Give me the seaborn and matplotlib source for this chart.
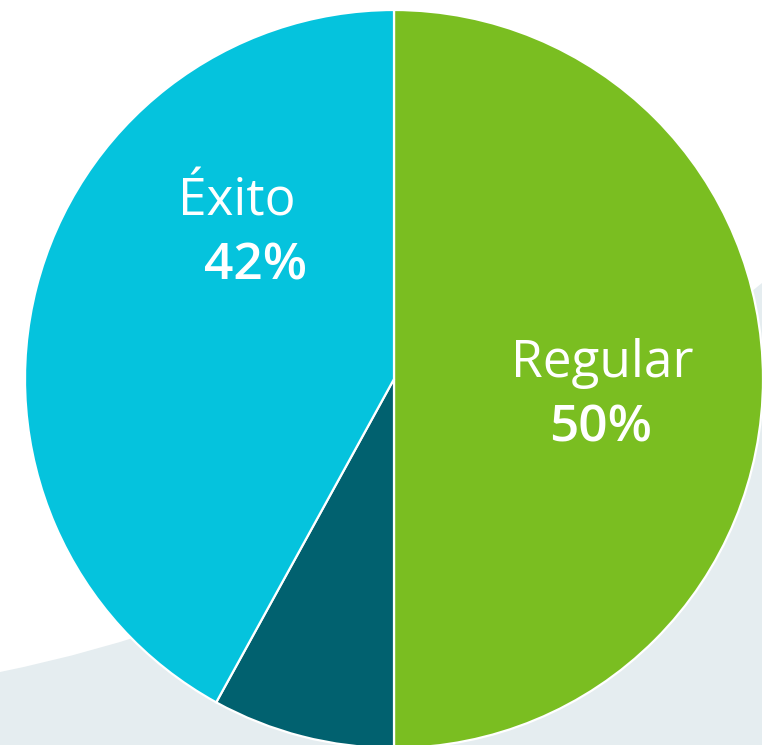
import matplotlib
matplotlib.use("Agg")
import matplotlib.pyplot as plt
from matplotlib.path import Path
from matplotlib.patches import PathPatch
import seaborn as sns

# Survey outcome shares (percent)
categories = ["Regular", "Sin respuesta", "Éxito"]
shares = [50, 8, 42]
colors = ["#7abe21", "#01616f", "#05c3dd"]
show_label = [True, False, True]

sns.set_theme(style="white")
plt.rcParams["font.family"] = ["Open Sans", "DejaVu Sans"]

W, H = 762, 745
fig = plt.figure(figsize=(W / 100, H / 100), dpi=100)
fig.patch.set_facecolor("white")
ax = fig.add_axes([0, 0, 1, 1])
ax.set_facecolor("white")

# soft backdrop band sweeping up to the right
band = Path(
    [(0, 0), (0, 73), (382, 150), (W, 462), (W, 0), (0, 0)],
    [Path.MOVETO, Path.LINETO, Path.CURVE3, Path.CURVE3, Path.LINETO, Path.CLOSEPOLY],
)
ax.add_patch(PathPatch(band, facecolor="#e5edf0", edgecolor="none", zorder=0))

cx, cy, r = 394, 366, 369
wedges, _ = ax.pie(
    shares,
    colors=colors,
    startangle=90,
    counterclock=False,
    center=(cx, cy),
    radius=r,
    wedgeprops=dict(edgecolor="white", linewidth=1.6),
)
for w in wedges:
    w.set_zorder(2)

# label baselines (name line, value line)
label_pos = {
    "Regular": ((602, H - 377), (601, H - 442)),
    "Éxito": ((237, H - 216), (256, H - 280)),
}
for cat, val, show in zip(categories, shares, show_label):
    if not show:
        continue
    (nx, ny), (vx, vy) = label_pos[cat]
    ax.text(nx, ny, cat, color="white", fontsize=37, fontweight="normal",
            ha="center", va="baseline", zorder=3)
    ax.text(vx, vy, f"{val}%", color="white", fontsize=37, fontweight="semibold",
            ha="center", va="baseline", zorder=3)

ax.set_xlim(0, W)
ax.set_ylim(0, H)
ax.set_aspect("equal")
ax.axis("off")

fig.savefig("out.png", dpi=100)
